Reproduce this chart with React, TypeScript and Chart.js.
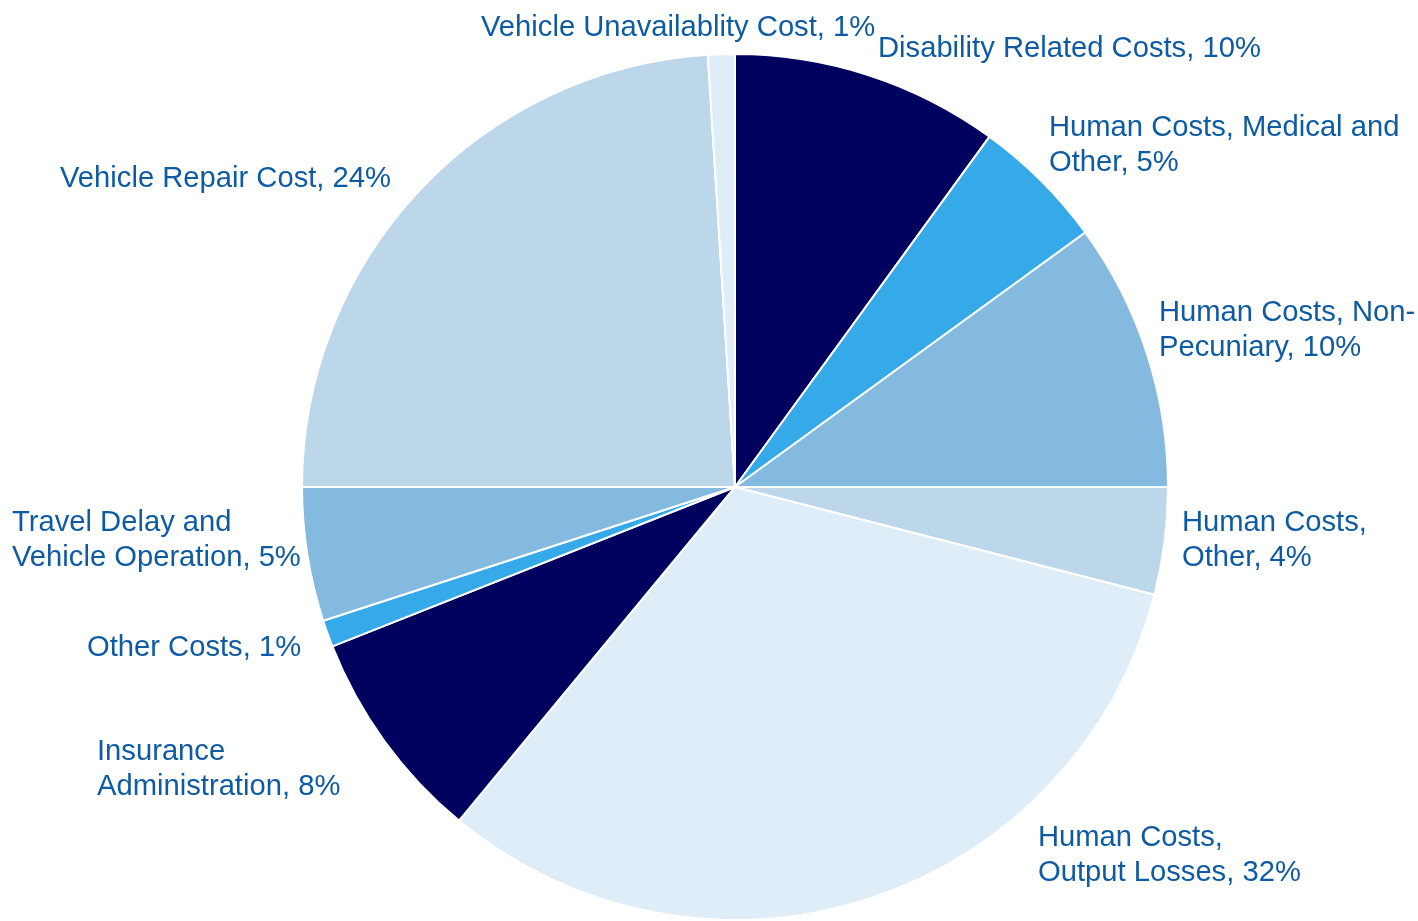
import React, { useEffect, useRef } from "react";
import { Chart, registerables } from "chart.js";

Chart.register(...registerables);

const categories: string[][] = [
  ["Disability Related Costs, 10%"],
  ["Human Costs, Medical and", "Other, 5%"],
  ["Human Costs, Non-", "Pecuniary, 10%"],
  ["Human Costs,", "Other, 4%"],
  ["Human Costs,", "Output Losses, 32%"],
  ["Insurance", "Administration, 8%"],
  ["Other Costs, 1%"],
  ["Travel Delay and", "Vehicle Operation, 5%"],
  ["Vehicle Repair Cost, 24%"],
  ["Vehicle Unavailablity Cost, 1%"],
];

const shares: number[] = [10, 5, 10, 4, 32, 8, 1, 5, 24, 1];

const sliceColors: string[] = [
  "#00005f",
  "#36a9e8",
  "#84badf",
  "#bcd7ea",
  "#deedf7",
  "#00005f",
  "#36a9e8",
  "#84badf",
  "#bcd7ea",
  "#deedf7",
];

// label placement: offset of first line's left/middle from pie center
const labelOffsets: [number, number][] = [
  [143, -440],
  [314, -361],
  [424, -176],
  [447, 34],
  [303, 349],
  [-638, 263],
  [-648, 159],
  [-723, 34],
  [-675, -310],
  [-254, -461],
];

const TEXT_COLOR = "#0e5ba3";
const LINE_HEIGHT = 35;

const labelPlugin = {
  id: "outerLabels",
  afterDraw(chart: any) {
    const meta = chart.getDatasetMeta(0);
    if (!meta.data.length) return;
    const arc = meta.data[0];
    const cx = arc.x;
    const cy = arc.y;
    const ctx = chart.ctx;
    ctx.save();
    ctx.fillStyle = TEXT_COLOR;
    ctx.font = '29.2px "Liberation Sans", Arial, sans-serif';
    ctx.textAlign = "left";
    ctx.textBaseline = "middle";
    categories.forEach((lines, i) => {
      const [dx, dy] = labelOffsets[i];
      lines.forEach((t, j) => {
        ctx.fillText(t, cx + dx, cy + dy + 2 + j * LINE_HEIGHT);
      });
    });
    ctx.restore();
  },
};

export default function App() {
  const ref = useRef<HTMLCanvasElement | null>(null);
  useEffect(() => {
    if (!ref.current) return;
    const chart = new Chart(ref.current, {
      type: "pie",
      data: {
        labels: categories.map((l) => l.join(" ")),
        datasets: [
          {
            data: shares,
            backgroundColor: sliceColors,
            borderColor: "#ffffff",
            borderWidth: 2,
          },
        ],
      },
      options: {
        animation: false,
        responsive: false,
        maintainAspectRatio: false,
        layout: { padding: { left: 52, top: 53, right: 0, bottom: 0 } },
        plugins: {
          legend: { display: false },
          tooltip: { enabled: false },
        },
      },
      plugins: [labelPlugin],
    });
    return () => chart.destroy();
  }, []);
  return (
    <div style={{ position: "fixed", left: 0, top: 0, width: 1418, height: 921, background: "#fff" }}>
      <canvas ref={ref} width={1418} height={921} style={{ width: 1418, height: 921 }} />
    </div>
  );
}
